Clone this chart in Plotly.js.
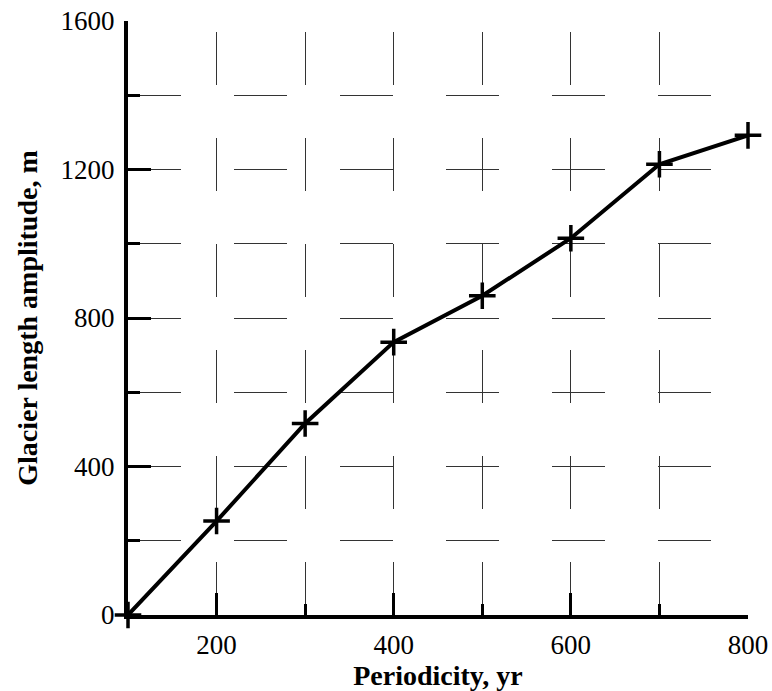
<!DOCTYPE html>
<html>
<head>
<meta charset="utf-8">
<script src="https://cdn.plot.ly/plotly-3.0.1.min.js"></script>
<style>
  html, body { margin: 0; padding: 0; background: #ffffff; }
  #chart { width: 772px; height: 691px; }
</style>
</head>
<body>
<div id="chart"></div>
<script>
// Data
const periodicity = [100, 200, 300, 400, 500, 600, 700, 800];
const amplitude   = [0, 253, 516, 735, 860, 1015, 1214, 1292];

const xTitle = 'Periodicity, yr';
const yTitle = 'Glacier length amplitude, m';

const serif = '"Liberation Serif", "Times New Roman", serif';
const hDash = '53px,53px';
const vDash = '0px,11px,53px,53px,53px,53px,53px,53px,53px,53px,53px,53px,53px,53px';

const trace = {
  x: periodicity,
  y: amplitude,
  type: 'scatter',
  mode: 'lines+markers',
  cliponaxis: false,
  line: { color: '#000000', width: 4 },
  marker: {
    symbol: 'cross-thin',
    size: 19,
    color: '#000000',
    line: { color: '#000000', width: 3.5 }
  },
  hoverinfo: 'skip'
};

const layout = {
  width: 772,
  height: 691,
  margin: { l: 128, r: 24, t: 21, b: 76 },
  paper_bgcolor: '#ffffff',
  plot_bgcolor: '#ffffff',
  showlegend: false,
  font: { family: serif, color: '#000000', size: 27 },
  xaxis: {
    range: [100, 800],
    tick0: 0,
    dtick: 200,
    ticks: 'inside',
    ticklen: 22,
    tickwidth: 3,
    tickcolor: '#000000',
    showline: true,
    linewidth: 4,
    linecolor: '#000000',
    zeroline: false,
    showgrid: true,
    gridcolor: '#333333',
    gridwidth: 1,
    griddash: vDash,
    tickfont: { family: serif, size: 27, color: '#000000' },
    ticklabelstandoff: 3,
    minor: {
      dtick: 100,
      ticks: 'inside',
      ticklen: 11,
      tickwidth: 3,
      tickcolor: '#000000',
      showgrid: true,
      gridcolor: '#333333',
      gridwidth: 1,
      griddash: vDash
    },
    title: {
      text: xTitle,
      font: { family: serif, size: 28, color: '#000000', weight: 'bold' },
      standoff: 8
    },
    fixedrange: true
  },
  yaxis: {
    range: [0, 1600],
    tick0: 0,
    dtick: 400,
    ticks: 'inside',
    ticklen: 23,
    tickwidth: 3,
    tickcolor: '#000000',
    showline: true,
    linewidth: 4,
    linecolor: '#000000',
    zeroline: false,
    showgrid: true,
    gridcolor: '#333333',
    gridwidth: 1,
    griddash: hDash,
    tickfont: { family: serif, size: 27, color: '#000000' },
    ticklabelstandoff: 4,
    minor: {
      dtick: 200,
      ticks: 'inside',
      ticklen: 12,
      tickwidth: 3,
      tickcolor: '#000000',
      showgrid: true,
      gridcolor: '#333333',
      gridwidth: 1,
      griddash: hDash
    },
    title: {
      text: yTitle,
      font: { family: serif, size: 28, color: '#000000', weight: 'bold' },
      standoff: 16
    },
    fixedrange: true
  }
};

Plotly.newPlot('chart', [trace], layout, { displayModeBar: false, staticPlot: true });
</script>
</body>
</html>
